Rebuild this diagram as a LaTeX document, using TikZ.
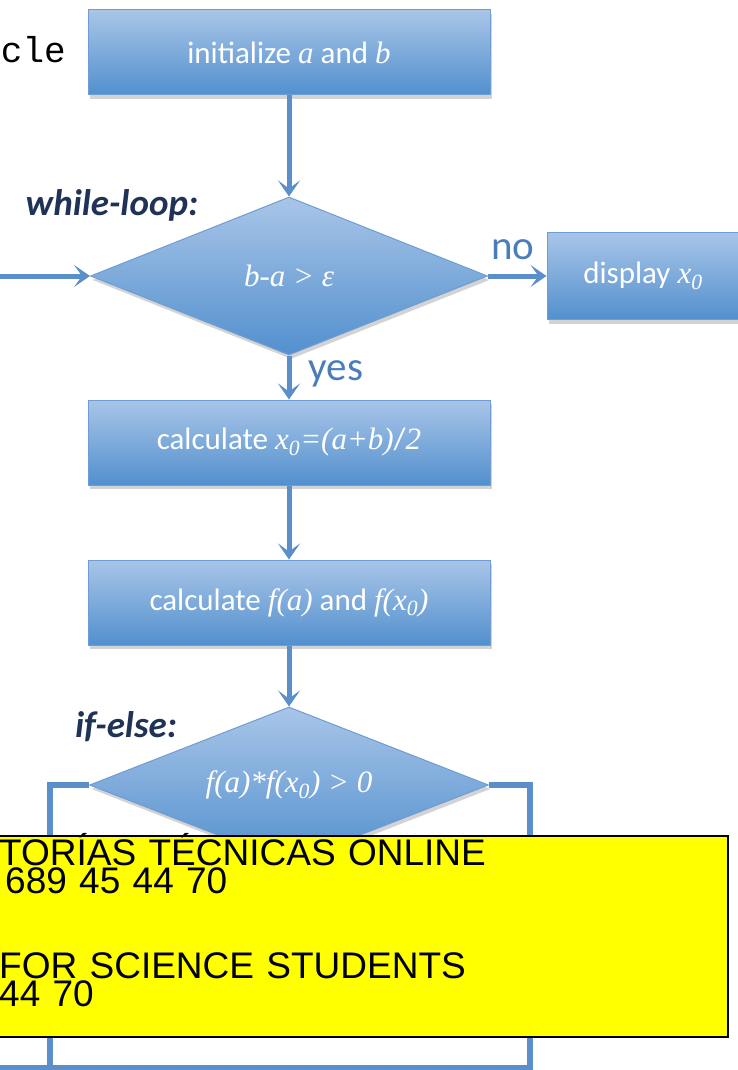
\documentclass[tikz,border=0pt]{standalone}
\usepackage{fontspec}
\setmainfont{Carlito}
\newfontfamily\monofont{Liberation Mono}
\newfontfamily\adfont{Liberation Sans}
\newfontfamily\varfont{Liberation Serif}
\newcommand{\mvar}[1]{{\varfont\itshape #1}}
\newcommand{\mzero}{\textsubscript{\mvar{0}}}
\usetikzlibrary{shapes.geometric,shadows,arrows.meta}
\definecolor{boxtop}{HTML}{A9C5E8}
\definecolor{boxbot}{HTML}{5290CE}
\definecolor{boxline}{HTML}{6E9DD3}
\definecolor{flow}{HTML}{5B8FC9}
\definecolor{navy}{HTML}{1F3356}
\definecolor{labelblue}{HTML}{4A7EBB}
\definecolor{adyellow}{HTML}{FFFF00}
\begin{document}
\begin{tikzpicture}[x=1pt,y=-1pt,
    stepbox/.style={draw=boxline,line width=1pt,top color=boxtop,bottom color=boxbot,
      text=white,font=\fontsize{31}{34}\selectfont,inner sep=0pt,
      drop shadow={shadow xshift=2pt,shadow yshift=-4pt,opacity=.35}},
    test/.style={stepbox,diamond,aspect=2.5},
    flowline/.style={draw=flow,line width=5pt},
    flowarrow/.style={flowline,-{Stealth[length=16pt,width=22pt,inset=8pt]}},
    loopname/.style={font=\fontsize{37}{40}\selectfont\bfseries\itshape,text=navy},
    answer/.style={font=\fontsize{41}{44}\selectfont,text=labelblue,inner sep=0pt},
    adtext/.style={anchor=base west,text width=720pt,align=left,
      font=\adfont\fontsize{37}{28}\selectfont,inner sep=0pt}]
  \useasboundingbox (0,0) rectangle (737,1070);

  \node[font=\monofont\fontsize{36}{38}\selectfont,anchor=base east,inner sep=0pt] (cut) at (66,63) {cle};

  \foreach \n/\y/\t in {init/52.5/{initialize \mvar{a} and \mvar{b}},calc1/442.5/{calculate \mvar{x}\mzero\mvar{=(a+b)}/\mvar{2}},calc2/602.5/{calculate \mvar{f(a)} and \mvar{f(x}\mzero\mvar{)}}} {
    \node[stepbox,minimum width=402pt,minimum height=85pt] (\n) at (289,\y) {\t};
  }
  \node[test,minimum width=397pt,minimum height=158pt] (while) at (289,276) {\mvar{b-a > ε}};
  \node[stepbox,minimum width=192pt,minimum height=87pt] (show) at (643,276) {display \mvar{x}\mzero};
  \node[test,minimum width=399pt,minimum height=156pt] (ifelse) at (289,785) {\mvar{f(a)*f(x}\mzero\mvar{) > 0}};

  \node[loopname] (wl) at (112,205) {while-loop:};
  \node[loopname] (ie) at (126,727) {if-else:};
  \node[answer] (no) at (513,250) {no};
  \node[answer] (yes) at (336,374) {yes};

  \coordinate (entry) at (0,276);
  \coordinate (elseleft) at (50,1068);
  \coordinate (elseright) at (530,1068);
  \coordinate (back) at (0,1068);

  \draw[flowarrow] (init) -- (while);
  \draw[flowarrow] (entry) -- (while.west);
  \draw[flowarrow] (while) -- (show);
  \draw[flowarrow] (while) -- (calc1);
  \draw[flowarrow] (calc1) -- (calc2);
  \draw[flowarrow] (calc2) -- (ifelse);
  \draw[flowline,line width=6pt] (ifelse.west) -| (elseleft);
  \draw[flowline,line width=6pt] (ifelse.east) -| (elseright) -- (back);

  \node[draw=black,line width=2pt,fill=adyellow,minimum width=738pt,minimum height=201pt,inner sep=0pt] (ad) at (359,936.5) {};
  \node[adtext] (adtop) at (-1,865) {TORÍAS TÉCNICAS ONLINE\\\hspace*{6pt}689 45 44 70};
  \node[adtext] (adbottom) at (-1,978) {FOR SCIENCE STUDENTS\\44 70};
\end{tikzpicture}
\end{document}
